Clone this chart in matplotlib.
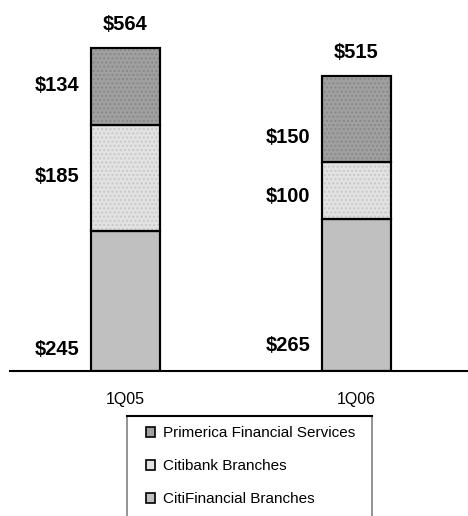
import matplotlib
matplotlib.use("Agg")
import matplotlib.pyplot as plt
from matplotlib.patches import Patch, Rectangle
from matplotlib.lines import Line2D

plt.rcParams['font.family'] = ['Liberation Sans', 'DejaVu Sans']

# Data
quarters = ["1Q05", "1Q06"]
citifinancial = [245, 265]
citibank = [185, 100]
primerica = [134, 150]
totals = [564, 515]
series_names = ["CitiFinancial Branches", "Citibank Branches", "Primerica Financial Services"]

# Styling
colors = ["#c0c0c0", "#e2e2e2", "#a0a0a0"]
hatches = [None, "....", "...."]
hatch_colors = [None, "#c8c8c8", "#888888"]

W, H = 468, 516
fig = plt.figure(figsize=(W / 100, H / 100), dpi=100)

ax_left, ax_right = 10 / W, 1.0
ax_bottom = 1 - 371 / H
ymax = 600
px_per_unit = 323 / 564.0
ax_height = (ymax * px_per_unit) / H
ax = fig.add_axes([ax_left, ax_bottom, ax_right - ax_left, ax_height])

x = [0, 1]
width = 0.30
stack = [citifinancial, citibank, primerica]
bottoms = [0, 0]
for vals, col, hat, hc in zip(stack, colors, hatches, hatch_colors):
    bars = ax.bar(x, vals, width, bottom=bottoms, color=col, edgecolor="black",
                  linewidth=1.5, zorder=2)
    if hat:
        for b in bars:
            b.set_hatch(hat)
            b._hatch_color = matplotlib.colors.to_rgba(hc)
    bottoms = [b0 + v for b0, v in zip(bottoms, vals)]

# Redraw outlines so hatch colour does not affect edges
for i in range(2):
    base = 0
    for vals in stack:
        ax.add_patch(Rectangle((x[i] - width / 2, base), width, vals[i], fill=False,
                               edgecolor="black", linewidth=1.5, zorder=3))
        base += vals[i]

ax.set_xlim(-0.5, 1.483)
ax.set_ylim(0, ymax)
for s in ["top", "right", "left"]:
    ax.spines[s].set_visible(False)
ax.spines["bottom"].set_linewidth(1.5)
ax.set_yticks([])
ax.set_xticks(x)
ax.set_xticklabels(quarters, fontsize=11.5)
ax.tick_params(axis="x", length=0, pad=15)

# Segment value labels, placed to the left of each bar
label_offset = 0.05
label_y = [[37, 340, 498], [45, 304, 407]]
for i in range(2):
    for k, vals in enumerate(stack):
        ax.text(x[i] - width / 2 - label_offset, label_y[i][k], f"${vals[i]}",
                ha="right", va="center", fontsize=14.5, fontweight="bold")
    ax.text(x[i], totals[i] + 24, f"${totals[i]}", ha="center", va="bottom",
            fontsize=14.5, fontweight="bold")

# Legend box
fig.patches.append(Rectangle((127 / W, -0.05), (372 - 127) / W, (1 - 416 / H) + 0.05,
                             transform=fig.transFigure, fill=False,
                             edgecolor="#808080", linewidth=1.2))
fig.lines.append(Line2D([127 / W, 372 / W], [1 - 416 / H, 1 - 416 / H],
                        transform=fig.transFigure, color="black", linewidth=1.5))

handles = [Patch(facecolor=colors[k], edgecolor="black", linewidth=1.2) for k in (2, 1, 0)]
labels = [series_names[k] for k in (2, 1, 0)]
fig.legend(handles, labels, loc="upper left", bbox_to_anchor=(140 / W, 1 - 420 / H),
           frameon=False, fontsize=11, handlelength=0.6, handleheight=0.6,
           handletextpad=0.5, labelspacing=1.25, borderaxespad=0)

fig.savefig("out.png", dpi=100)
